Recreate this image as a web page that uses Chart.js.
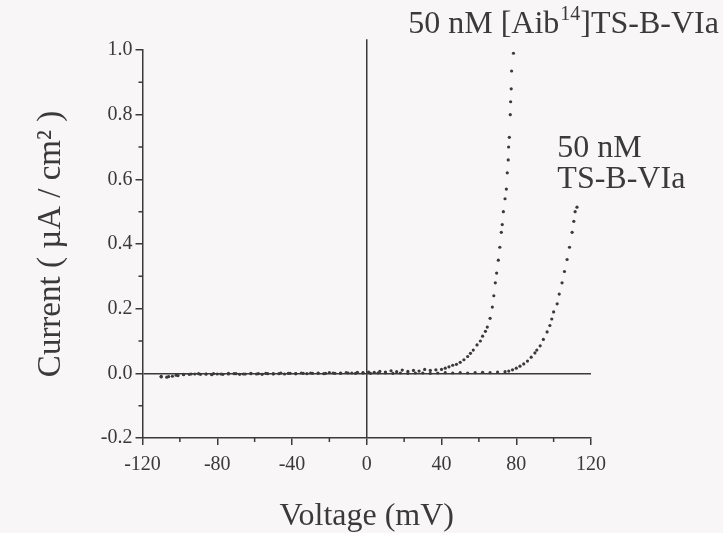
<!DOCTYPE html>
<html>
<head>
<meta charset="utf-8">
<script src="https://cdn.jsdelivr.net/npm/chart.js@4/dist/chart.umd.min.js"></script>
<style>
html,body{margin:0;padding:0;background:#f8f6f6;}
canvas{display:block;}
</style>
</head>
<body>
<canvas id="c" width="723" height="533"></canvas>
<script>
// Voltage (mV) and current (µA/cm²) for 50 nM [Aib14]TS-B-VIa
const aibVoltage = [-110,-107,-104,-101,-98,-95,-92,-89,-86,-83,-80,-77,-74,-71,-68,-65,-62,-59,-56,-53,-50,-47,-44,-41,-38,-35,-32,-29,-26,-23,-20,-17,-14,-11,-8,-5,-2,1,4,7,10,13,16,19,22,25,28,31,34,37,
  40,42,44,46,48,50,52,54,55.5,57,59,60.8,62,63.5,64.5,66,67.2,68,68.8,69.5,70.4,71.2,72,72.5,73.1,74,74.7,75.2,75.7,75.9,76.3,76.8,77,77.3,77.5,78.5];
const aibCurrent = [-0.011,-0.012,-0.009,-0.007,-0.004,-0.003,-0.002,-0.003,-0.002,-0.004,-0.002,-0.003,-0.002,-0.001,-0.003,-0.002,-0.001,-0.002,-0.003,-0.001,-0.002,-0.001,-0.002,0.000,-0.001,0.001,-0.001,0.000,0.001,-0.001,0.002,0.000,0.001,0.002,0.001,0.003,0.002,0.004,0.003,0.006,0.004,0.008,0.005,0.010,0.006,0.009,0.007,0.012,0.009,0.011,
  0.012,0.016,0.020,0.025,0.028,0.034,0.042,0.052,0.062,0.072,0.088,0.100,0.115,0.130,0.143,0.170,0.205,0.240,0.280,0.310,0.350,0.390,0.436,0.460,0.500,0.540,0.570,0.620,0.660,0.700,0.730,0.800,0.840,0.880,0.935,0.990];

// Voltage (mV) and current (µA/cm²) for 50 nM TS-B-VIa
const tsVoltage = [-110,-106,-102,-98,-94,-90,-86,-82,-78,-74,-70,-66,-62,-58,-54,-50,-46,-42,-38,-34,-30,-26,-22,-18,-14,-10,-6,-2,2,6,10,14,18,22,26,30,34,38,42,46,50,54,58,62,66,70,
  74,76,78,80,82,84,86,88,90,91,92.8,94.5,96.5,98,99,100,101.9,103,104.5,105.8,107.2,108.5,109.9,110.8,111.5,112.5];
const tsCurrent = [-0.009,-0.010,-0.006,-0.003,-0.002,-0.001,-0.002,-0.001,-0.002,0.000,-0.001,-0.002,0.000,-0.001,0.000,-0.001,0.001,0.000,-0.001,0.000,0.001,0.000,0.000,0.001,0.000,0.001,0.000,0.001,0.000,0.001,0.001,0.000,0.001,0.000,0.001,0.001,0.000,0.001,0.002,0.001,0.002,0.001,0.002,0.003,0.002,0.004,
  0.005,0.007,0.011,0.016,0.022,0.029,0.038,0.050,0.063,0.072,0.085,0.105,0.128,0.148,0.168,0.190,0.215,0.245,0.280,0.315,0.352,0.390,0.436,0.470,0.500,0.514];

const xTickLabels = ['-120','-80','-40','0','40','80','120'];
const yTickLabels = ['-0.2','0.0','0.2','0.4','0.6','0.8','1.0'];
const xTitle = 'Voltage (mV)';
const yTitle = 'Current ( \u00B5A / cm\u00B2 )';
const label1 = ['50 nM [Aib', '14', ']TS-B-VIa'];
const label2 = ['50 nM', 'TS-B-VIa'];

const ink = '#3a3a3a';
const serif = '"Liberation Serif", "Times New Roman", serif';

function pts(xs, ys){ return xs.map((x,i)=>({x:x, y:ys[i]})); }
const majorColor = (ctx)=> (ctx.tick && ctx.tick.label !== '') ? ink : 'rgba(0,0,0,0)';

const bgPlugin = {
  id:'bg',
  beforeDraw(chart){
    const c = chart.ctx; c.save(); c.fillStyle = '#f8f6f6';
    c.fillRect(0,0,chart.width,chart.height); c.restore();
  }
};

const annPlugin = {
  id:'ann',
  afterDraw(chart){
    const c = chart.ctx, xs = chart.scales.x, ys = chart.scales.y, a = chart.chartArea;
    c.save();
    c.strokeStyle = ink; c.lineWidth = 1.5;
    // minor ticks (shorter)
    c.beginPath();
    xs.ticks.forEach(t=>{ if (t.label === '') { const p = xs.getPixelForValue(t.value); c.moveTo(p, a.bottom); c.lineTo(p, a.bottom + 4); } });
    ys.ticks.forEach(t=>{ if (t.label === '') { const p = ys.getPixelForValue(t.value); c.moveTo(a.left - 4, p); c.lineTo(a.left, p); } });
    c.stroke();
    // extension of vertical zero line above plot
    const x0 = xs.getPixelForValue(0);
    c.beginPath(); c.moveTo(x0, ys.getPixelForValue(1.033)); c.lineTo(x0, a.top); c.stroke();
    // label 1 with superscript
    c.fillStyle = ink; c.textBaseline = 'alphabetic'; c.textAlign = 'left';
    let x = xs.getPixelForValue(22.2), y = ys.getPixelForValue(1.054);
    c.font = '32px ' + serif;
    c.fillText(label1[0], x, y); x += c.measureText(label1[0]).width;
    c.font = '20px ' + serif;
    c.fillText(label1[1], x + 1, y - 13); x += c.measureText(label1[1]).width + 1;
    c.font = '32px ' + serif;
    c.fillText(label1[2], x, y);
    // label 2
    const x2 = xs.getPixelForValue(102);
    c.fillText(label2[0], x2, ys.getPixelForValue(0.67));
    c.fillText(label2[1], x2, ys.getPixelForValue(0.574));
    c.restore();
  }
};

new Chart(document.getElementById('c'), {
  type:'scatter',
  data:{
    datasets:[
      {label:'50 nM [Aib14]TS-B-VIa', data:pts(aibVoltage, aibCurrent), backgroundColor:ink, borderColor:ink, pointRadius:1.6, pointBorderWidth:0},
      {label:'50 nM TS-B-VIa', data:pts(tsVoltage, tsCurrent), backgroundColor:ink, borderColor:ink, pointRadius:1.6, pointBorderWidth:0}
    ]
  },
  options:{
    responsive:false,
    animation:false,
    devicePixelRatio:1,
    layout:{padding:{top:50, right:132, bottom:0, left:0}},
    plugins:{legend:{display:false}, tooltip:{enabled:false}},
    scales:{
      x:{
        type:'linear', min:-120, max:120,
        afterFit(s){ s.height = 95; },
        border:{display:true, color:ink, width:1.5},
        grid:{
          color:(ctx)=> (ctx.tick && ctx.tick.value === 0) ? ink : 'rgba(0,0,0,0)',
          lineWidth:1.5, tickColor:majorColor, tickLength:7, drawTicks:true
        },
        ticks:{
          stepSize:20, autoSkip:false, maxRotation:0, padding:8, color:ink,
          font:{family:serif, size:20},
          callback:(v)=>{ const i = xTickLabels.indexOf(String(v)); return i >= 0 ? xTickLabels[i] : ''; }
        },
        title:{display:true, text:xTitle, color:ink, font:{family:serif, size:32, lineHeight:1}, padding:{top:0, bottom:0}}
      },
      y:{
        type:'linear', min:-0.2, max:1.0,
        afterFit(s){ s.width = 142.5; },
        border:{display:true, color:ink, width:1.5},
        grid:{
          color:(ctx)=> (ctx.tick && Math.abs(ctx.tick.value) < 1e-9) ? ink : 'rgba(0,0,0,0)',
          lineWidth:1.5, tickColor:majorColor, tickLength:7, drawTicks:true
        },
        ticks:{
          stepSize:0.1, autoSkip:false, padding:3, color:ink,
          font:{family:serif, size:20},
          callback:(v)=>{ const s = (Math.round(v*10)/10).toFixed(1); return yTickLabels.indexOf(s) >= 0 ? s : ''; }
        },
        title:{display:true, text:yTitle, color:ink, font:{family:serif, size:33, lineHeight:1}, padding:{top:35, bottom:0}}
      }
    }
  },
  plugins:[bgPlugin, annPlugin]
});
</script>
</body>
</html>
